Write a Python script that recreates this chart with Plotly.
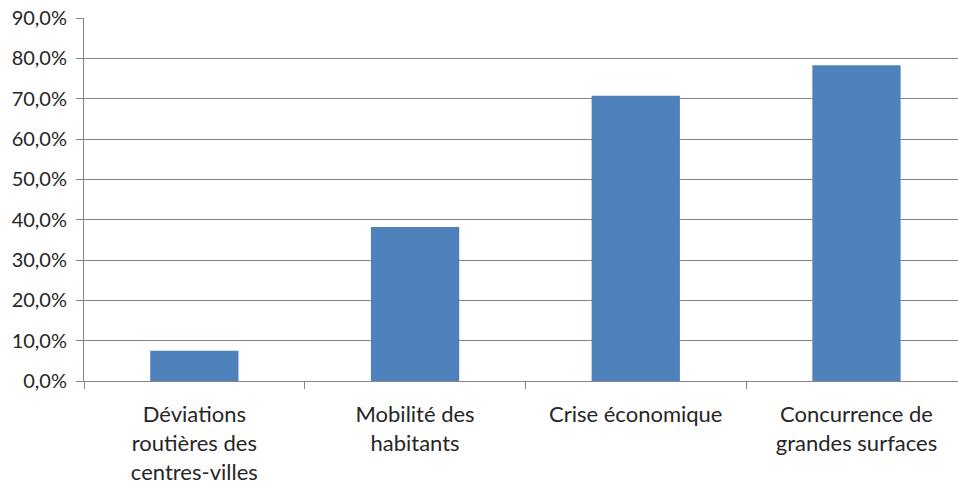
import plotly.graph_objects as go

categories = [
    "Déviations<br>routières des<br>centres-villes",
    "Mobilité des<br>habitants",
    "Crise économique",
    "Concurrence de<br>grandes surfaces",
]
values = [0.075, 0.382, 0.707, 0.783]
y_ticks = [0, 0.1, 0.2, 0.3, 0.4, 0.5, 0.6, 0.7, 0.8, 0.9]

grey = "#868686"
font = dict(family="Lato", size=20, color="#262626")
xfont = dict(family="Lato", size=22, color="#262626")

fig = go.Figure(go.Bar(x=categories, y=values, marker=dict(color="#4F81BD", line=dict(width=0)), width=0.4))

fig.update_layout(
    width=958, height=484,
    margin=dict(l=84, r=0, t=18, b=103),
    plot_bgcolor="white", paper_bgcolor="white",
    separators=", ",
    showlegend=False,
    font=font,
)
fig.update_xaxes(
    type="category", range=[-0.5, 3.46], automargin=False,
    showline=True, linecolor=grey, linewidth=1,
    ticks="outside", tickson="boundaries", ticklen=7, tickcolor=grey,
    showgrid=False, tickfont=xfont, ticklabelstandoff=14,
)
fig.update_yaxes(
    range=[0, 0.9], tickvals=y_ticks, tickformat=".1%", automargin=False,
    showline=True, linecolor=grey, linewidth=1,
    ticks="outside", ticklen=7, tickcolor=grey,
    showgrid=True, gridcolor=grey, gridwidth=1,
    zeroline=False, tickfont=font, ticklabelstandoff=5,
)
fig.write_html("out.html")
